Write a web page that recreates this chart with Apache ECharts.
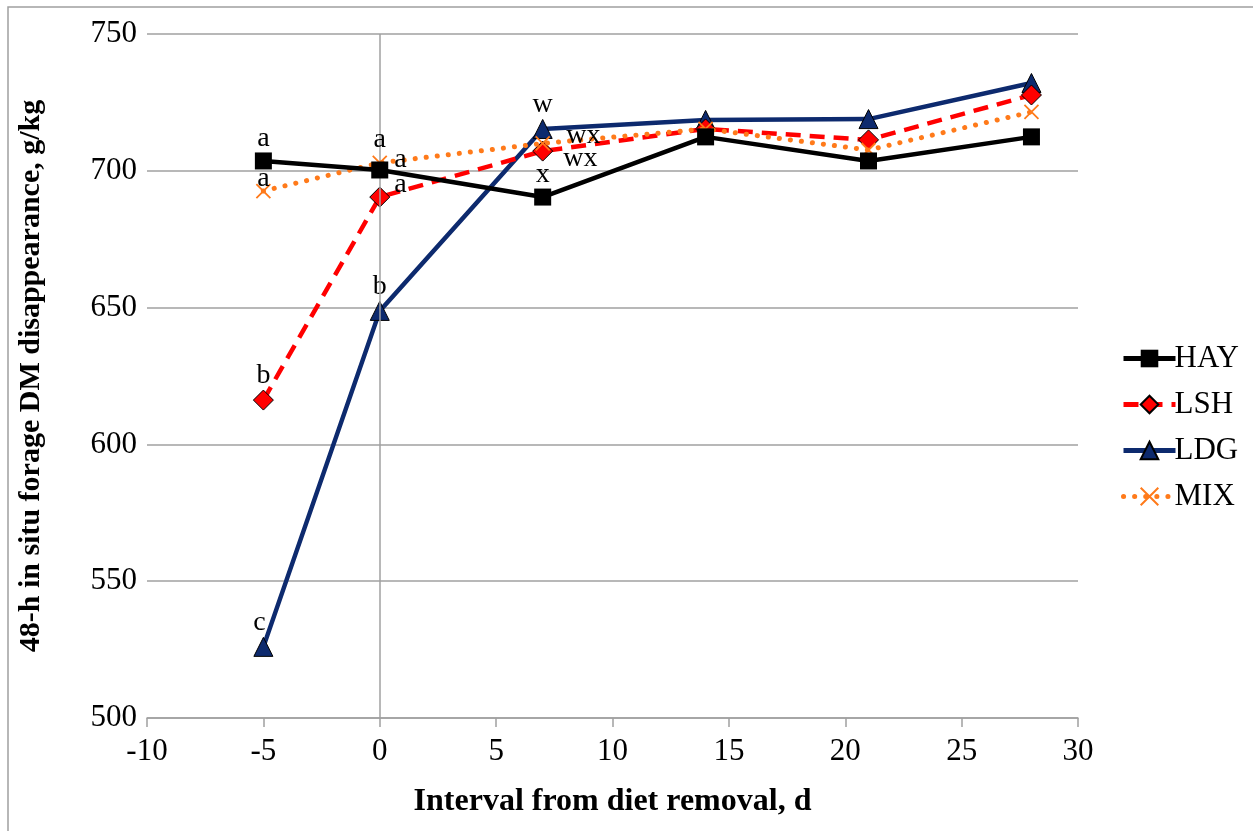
<!DOCTYPE html>
<html>
<head>
<meta charset="utf-8">
<script src="https://cdn.jsdelivr.net/npm/echarts@6/dist/echarts.min.js"></script>
<style>html,body{margin:0;padding:0;background:#fff}#c{width:1253px;height:831px}</style>
</head>
<body>
<div id="c"></div>
<script>
const days = [-5, 0, 7, 14, 21, 28];
const hay = [703.6, 700.3, 690.4, 712.4, 703.6, 712.4];
const lsh = [616.2, 690.4, 707.2, 715.3, 711.3, 727.7];
const ldg = [526.0, 648.8, 715.3, 718.6, 718.9, 732.1];
const mix = [692.6, 702.9, 710.0, 715.3, 707.6, 721.5];
const hayLetters = ['a', 'a', 'x', '', '', ''];
const lshLetters = ['b', 'a', 'wx', '', '', ''];
const ldgLetters = ['c', 'b', 'w', '', '', ''];
const mixLetters = ['a', 'a', 'wx', '', '', ''];
const xTicks = [-10, -5, 0, 5, 10, 15, 20, 25, 30];
const yTicks = [500, 550, 600, 650, 700, 750];

const FONT = '"Liberation Serif", "Times New Roman", serif';
const labFont = {fontFamily: FONT, fontSize: 28, color: '#000'};

function mk(vals, letters, posList) {
  return vals.map((v, i) => {
    const d = {value: [days[i], v]};
    if (letters[i]) {
      const p = posList[i] || {};
      d.label = Object.assign({show: true, formatter: letters[i], position: 'top', distance: 0}, labFont, p);
    }
    return d;
  });
}

const chart = echarts.init(document.getElementById('c'));
chart.setOption({
  animation: false,
  backgroundColor: '#fff',
  grid: {left: 147, right: 175, top: 34, bottom: 113},
  xAxis: {
    type: 'value', min: xTicks[0], max: xTicks[xTicks.length - 1], interval: 5,
    axisLine: {show: true, onZero: false, lineStyle: {color: '#a0a0a0', width: 1.5}},
    axisTick: {show: true, length: 9, lineStyle: {color: '#a0a0a0', width: 1.5}},
    splitLine: {show: false},
    axisLabel: {fontFamily: FONT, fontSize: 31, color: '#000', margin: 18},
    name: 'Interval from diet removal, d', nameLocation: 'middle', nameGap: 68,
    nameTextStyle: {fontFamily: FONT, fontSize: 32, fontWeight: 'bold', color: '#000'}
  },
  yAxis: {
    type: 'value', min: yTicks[0], max: yTicks[yTicks.length - 1], interval: 50,
    axisLine: {show: false},
    axisTick: {show: false},
    splitLine: {show: true, lineStyle: {color: '#a0a0a0', width: 1.5}},
    axisLabel: {fontFamily: FONT, fontSize: 31, color: '#000', margin: 10},
    name: '48-h in situ forage DM disappearance, g/kg', nameLocation: 'middle', nameGap: 101,
    nameTextStyle: {fontFamily: FONT, fontSize: 30, fontWeight: 'bold', color: '#000'}
  },
  legend: {
    orient: 'vertical', left: 1116, top: 338, itemGap: 15, itemWidth: 52, itemHeight: 22,
    lineStyle: {width: 5},
    textStyle: {fontFamily: FONT, fontSize: 31, color: '#000', padding: [0, 0, 0, -6]},
    data: ['HAY', 'LSH', 'LDG', 'MIX']
  },
  graphic: [{
    type: 'polyline', silent: true,
    shape: {points: [[8, 831], [8, 7], [1253, 7]]},
    style: {stroke: '#a0a0a0', lineWidth: 1.5, fill: null}
  }],
  series: [
    {
      name: 'LDG', type: 'line', z: 3,
      data: mk(ldg, ldgLetters, [{position: 'top', offset: [-4, 0]}, {}, {}]),
      symbol: 'triangle', symbolSize: 19,
      lineStyle: {color: '#0d2a6e', width: 4.5},
      itemStyle: {color: '#0d2a6e', borderColor: '#000', borderWidth: 1},
      markLine: {
        silent: true, symbol: 'none', label: {show: false},
        lineStyle: {color: '#a0a0a0', width: 1.5, type: 'solid'},
        data: [{xAxis: 0}]
      }
    },
    {
      name: 'LSH', type: 'line', z: 4,
      data: mk(lsh, lshLetters, [{}, {position: 'right', offset: [-4, -12], distance: 8}, {position: 'right', offset: [0, 8], distance: 10}]),
      symbol: 'diamond', symbolSize: 20,
      lineStyle: {color: '#ff0000', width: 4.5, type: [15, 9]},
      itemStyle: {color: '#ff0000', borderColor: '#000', borderWidth: 1}
    },
    {
      name: 'MIX', type: 'line', z: 5,
      data: mk(mix, mixLetters, [{distance: -2, offset: [0, 9]}, {position: 'top', distance: 0}, {position: 'right', offset: [4, -8], distance: 10}]),
      symbol: 'path://M0,0L10,10M10,0L0,10', symbolSize: 14,
      lineStyle: {color: '#ff7a1a', width: 5, type: [0.1, 11], cap: 'round'},
      itemStyle: {color: 'none', borderColor: '#ff7a1a', borderWidth: 1.8}
    },
    {
      name: 'HAY', type: 'line', z: 6,
      data: mk(hay, hayLetters, [{}, {position: 'right', offset: [-4, -10], distance: 10}, {}]),
      symbol: 'rect', symbolSize: 17,
      lineStyle: {color: '#000', width: 4.5},
      itemStyle: {color: '#000', borderColor: '#000', borderWidth: 0}
    }
  ]
});
</script>
</body>
</html>
